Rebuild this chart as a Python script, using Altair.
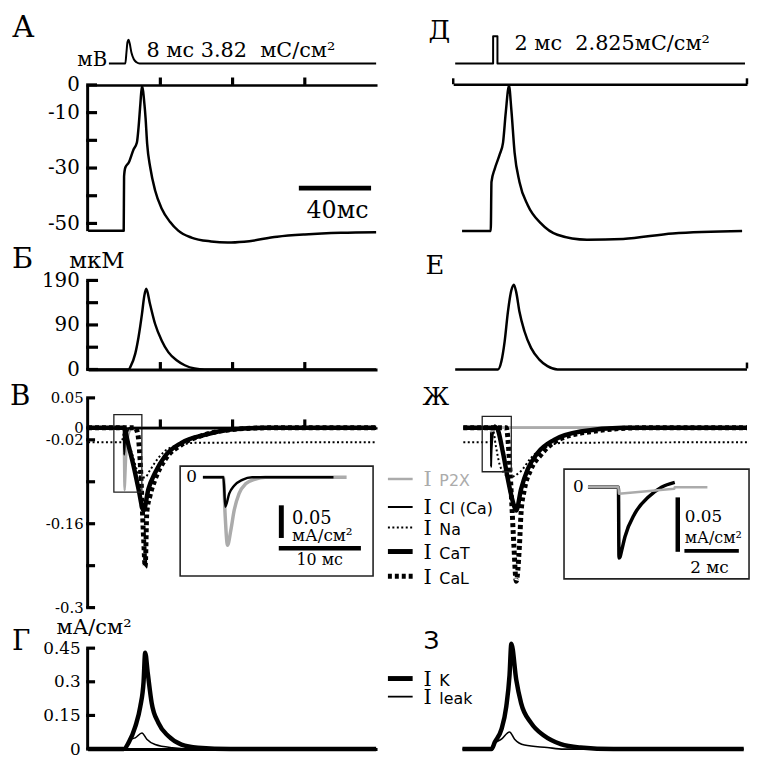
import altair as alt
import pandas as pd

# ======================= values =======================
# time in ms; stimulus in arbitrary units; Vm in mV; Ca in µM; currents in mA/cm2
stim_left_t = [11.5, 20.6, 21.2, 21.8, 22.4, 23.0, 24.0, 25.3, 26.8, 28.5, 159.5]
stim_left_v = [0, 0, 0.45, 0.9, 1.0, 0.85, 0.45, 0.18, 0.05, 0, 0]
stim_right_t = [0, 21.0, 21.01, 23.4, 23.41, 160.5]
stim_right_v = [0, 0, 1.15, 1.15, 0, 0]

# А / Д : membrane potential
vm_left_t = [0, 19.7, 19.9, 20.6, 22.5, 25.2, 27.0, 27.9, 28.9, 29.8, 31.2, 31.8, 32.7, 34.4,
             37.1, 40.7, 45.3, 49.9, 57.2, 68.1, 77.3, 86.4, 104.7, 120, 140, 159.5]
vm_left_v = [-52.6, -52.6, -33, -29.8, -28, -23.2, -20.8, -15.5, -7.1, -0.4, -7.1, -11.9, -21.4, -29.8,
             -38.1, -44.6, -49.4, -52.6, -55.1, -56.5, -56.9, -56.6, -54.8, -54.0, -53.4, -53.2]
vm_right_t = [3.8, 19.7, 20.1, 21.9, 24.7, 26.5, 28.0, 29.8, 31.1, 32.9, 35.6, 40.2, 47.5, 56.6,
              73.0, 93.0, 120.5, 158.9]
vm_right_v = [-52.7, -52.7, -35, -30.3, -25, -20.8, -10, -0.3, -8.9, -24.4, -35, -43.4, -50, -54.1,
              -55.9, -55.6, -53.6, -52.7]

# Б / Е : calcium concentration
ca_left_t = [0, 22.5, 23.4, 26.1, 27.9, 29.8, 31.1, 32.2, 34.3, 37.1, 40.7, 44.4, 49.0, 53.5, 59.0, 64.5, 159.5]
ca_left_v = [0, 0, 5.5, 33.8, 68.8, 118, 157, 172, 139, 97, 62, 37, 19.6, 9, 2, 0, 0]
ca_right_t = [0, 23.7, 25.6, 27.4, 29.2, 31.1, 32.5, 33.8, 35.6, 38.4, 42.0, 46.6, 51.1, 56.7, 161.6]
ca_right_v = [0, 0, 17.5, 60, 123, 169, 181, 165, 123, 81, 46, 21, 7, 0, 0]

# В : inward currents, left column
ip2x_left_t = [0, 17.2, 19.7, 19.9, 20.2, 20.6, 21.0, 21.6, 22.4, 23.6, 24.8, 34.7, 159.5]
ip2x_left_v = [0, 0, 0, -0.056, -0.104, -0.081, -0.051, -0.025, -0.010, -0.0026, 0, 0, 0]
icl_left_t = [0, 17.2, 19.7, 19.93, 20.4, 21.0, 22.0, 23.2, 33.1, 159.5]
icl_left_v = [0, 0, 0, -0.045, -0.025, -0.013, -0.004, 0, 0, 0]
ina_left_t = [0, 18.5, 19.7, 20.5, 22.0, 24.5, 27.0, 29.5, 31.5, 34.0, 37.0, 42.0, 50.0, 60.0, 159.5]
ina_left_v = [-0.024, -0.024, -0.01, -0.004, -0.02, -0.045, -0.07, -0.083, -0.083, -0.072, -0.058,
              -0.04, -0.029, -0.025, -0.024]
icat_left_t = [0, 19.7, 22.5, 25.2, 27.9, 30.7, 33.4, 37.1, 42.6, 51.7, 64.5, 79.0, 98.0, 159.5]
icat_left_v = [0, 0, -0.031, -0.064, -0.102, -0.138, -0.102, -0.075, -0.047, -0.025, -0.0116, -0.003, 0, 0]
ical_left_t = [0, 26.0, 27.5, 28.7, 29.8, 30.8, 31.6, 32.5, 34.3, 37.1, 42.6, 51.7, 64.5, 79.0, 100.0, 159.5]
ical_left_v = [0, 0, -0.01, -0.05, -0.12, -0.19, -0.232, -0.141, -0.113, -0.086, -0.053, -0.028,
               -0.0116, -0.003, 0, 0]

# Ж : inward currents, right column
ip2x_right_t = [4.5, 18.68, 19.8, 19.82, 21.85, 21.87, 23.07, 161.6]
ip2x_right_v = [0, 0, 0, -0.006, -0.0015, 0, 0, 0]
icl_right_t = [4.5, 18.68, 19.8, 19.82, 19.86, 19.92, 20.04, 20.4, 20.9, 21.38, 21.87, 23.07, 30.0, 161.6]
icl_right_v = [0, 0, 0, -0.065, -0.064, -0.058, -0.0455, -0.0243, -0.0091, 0, 0.0045, 0.002, 0, 0]
ina_right_t = [4.5, 19.5, 21.0, 22.5, 24.5, 27.0, 30.0, 33.0, 36.5, 42.0, 51.0, 60.0, 161.6]
ina_right_v = [-0.024, -0.024, -0.005, -0.03, -0.06, -0.075, -0.083, -0.08, -0.072, -0.05, -0.031,
               -0.025, -0.024]
icat_right_t = [4.5, 22.8, 26.5, 29.2, 32.0, 33.8, 36.5, 40.2, 45.6, 54.8, 69.4, 93.0, 161.6]
icat_right_v = [0, 0, -0.042, -0.086, -0.124, -0.138, -0.102, -0.069, -0.042, -0.02, -0.006, 0, 0]
ical_right_t = [4.5, 28.3, 30.1, 31.4, 32.5, 33.8, 35.6, 36.5, 38.4, 42.0, 47.5, 57.0, 76.0, 103.0, 161.6]
ical_right_v = [0, 0, -0.058, -0.13, -0.196, -0.256, -0.196, -0.141, -0.102, -0.069, -0.045, -0.02,
                -0.006, 0, 0]

# Г / З : outward currents
ik_left_t = [0, 19.7, 22.5, 26.1, 28.9, 30.7, 31.6, 33.0, 35.2, 38.9, 44.4, 51.7, 60.8, 79.0, 159.5]
ik_left_v = [0, 0, 0.03, 0.1, 0.19, 0.3, 0.43, 0.34, 0.205, 0.117, 0.058, 0.02, 0.006, 0, 0]
ileak_left_t = [0, 19.7, 23.4, 26.1, 29.8, 32.5, 37.1, 46.6, 60.0, 159.5]
ileak_left_v = [0, 0, 0.044, 0.05, 0.072, 0.044, 0.02, 0.006, 0, -0.003]
ik_right_t = [4.0, 20.1, 21.9, 25.6, 28.3, 30.1, 31.1, 33.8, 36.5, 42.0, 49.3, 58.5, 69.4, 87.7, 159.8]
ik_right_v = [0, 0, 0.03, 0.088, 0.19, 0.33, 0.47, 0.31, 0.205, 0.117, 0.059, 0.022, 0.007, 0, 0]
ileak_right_t = [4.0, 20.1, 21.0, 25.6, 30.1, 32.9, 38.4, 50.9, 60.0, 159.8]
ileak_right_v = [0, 0, 0.022, 0.044, 0.076, 0.044, 0.018, 0.007, 0, 0]

# axis ticks and labels
vm_ticks = [0, -10, -20, -30, -40, -50]
vm_labels = ["0", "-10", "", "-30", "", "-50"]
ca_ticks = [0, 47.5, 95, 142.5, 190]
ca_labels = ["0", "", "90", "", "190"]
cur_ticks = [0.05, 0, -0.02, -0.09, -0.16, -0.23, -0.3]
cur_labels = ["0.05", "0", "-0.02", "", "-0.16", "", "-0.3"]
out_ticks = [0, 0.15, 0.3, 0.45]
out_labels = ["0", "0.15", "0.3", "0.45"]
time_ticks = [40, 80, 120]
right_end_ticks = [-1.1, 161.6]

# legends
legC_names = ["P2X", "Cl (Ca)", "Na", "CaT", "CaL"]
legD_names = ["K", "leak"]

# ======================= layout (pixels) =======================
W, H, M = 752, 754, 8
SERIF, SANS = "DejaVu Serif", "DejaVu Sans"
GREY = "#ababab"
XL = (89.0, 1.825)                      # page x at t = 0, px per ms
XR = (460.0, 1.825)
XIL = (205.0 - 8.3 * 17.2, 8.3)         # inset В
XIR = (625.0 - 27.5 * 19.8, 27.5)       # inset Ж
YM = {"stim": (60.0, 24.0), "A": (81.7, 2.8), "B": (369.3, 0.4737), "C": (428.3, 605.7),
      "D": (753.0, 226.7), "IL": (478.3, 660.0), "IR": (488.3, 1100.0)}


def sx(xm, lo=0.0, hi=160.0):
    x0, k = xm
    return alt.Scale(domain=[lo, hi], range=[x0 + k * lo - M, x0 + k * hi - M], nice=False, zero=False)


def sy(key, lo=0.0, hi=1.0):
    y0, k = YM[key]
    return alt.Scale(domain=[lo, hi], range=[y0 - k * lo - M, y0 - k * hi - M], nice=False, zero=False)


def tp(px, xm):
    return (px - xm[0]) / xm[1]


def vp(py, yk):
    return (YM[yk][0] - py) / YM[yk][1]


def trace(t, v, xm, yk, color="black", w=2.5, dash=None, interp="monotone", t_lo=None, t_hi=None):
    df = pd.DataFrame({"t": [float(a) for a in t], "v": [float(b) for b in v]})
    kw = dict(color=color, strokeWidth=w, interpolate=interp, strokeCap="butt", strokeJoin="round")
    if dash is not None:
        kw["strokeDash"] = dash
    ch = alt.Chart(df)
    if t_lo is not None:
        ch = ch.transform_filter(f"datum.t >= {t_lo} && datum.t <= {t_hi}")
    return ch.mark_line(**kw).encode(
        x=alt.X("t:Q", scale=sx(xm), axis=None),
        y=alt.Y("v:Q", scale=sy(yk), axis=None),
    )


def bar(t0, t1, v0, v1, xm, yk, w, color="black", dash=None):
    df = pd.DataFrame({"t0": [float(t0)], "t1": [float(t1)], "v0": [float(v0)], "v1": [float(v1)]})
    kw = dict(color=color, strokeWidth=w, strokeCap="butt")
    if dash is not None:
        kw["strokeDash"] = dash
    return alt.Chart(df).mark_rule(**kw).encode(
        x=alt.X("t0:Q", scale=sx(xm), axis=None), x2="t1:Q",
        y=alt.Y("v0:Q", scale=sy(yk), axis=None), y2="v1:Q",
    )


def ticks_x(values, xm, yk, y_page, length, w=3.2):
    """short upward tick marks on a horizontal axis line"""
    return [bar(t, t, vp(y_page, yk), vp(y_page - length, yk), xm, yk, w) for t in values]


def ticks_y(values, xm, yk, x_page, length, w=3.2):
    """short inward (rightward) tick marks on a vertical axis line"""
    return [bar(tp(x_page, xm), tp(x_page + length, xm), v, v, xm, yk, w) for v in values]


def frame(px0, px1, py0, py1, xm, yk, w=1.5):
    df = pd.DataFrame({"t0": [tp(px0, xm)], "t1": [tp(px1, xm)], "v0": [vp(py0, yk)], "v1": [vp(py1, yk)]})
    return alt.Chart(df).mark_rect(fillOpacity=0, stroke="#222222", strokeWidth=w).encode(
        x=alt.X("t0:Q", scale=sx(xm), axis=None), x2="t1:Q",
        y=alt.Y("v0:Q", scale=sy(yk), axis=None), y2="v1:Q",
    )


def label(s, px, py, xm, yk, size, font=SERIF, align="left", baseline="alphabetic", color="black"):
    df = pd.DataFrame({"t": [tp(px, xm)], "v": [vp(py, yk)], "s": [s]})
    return alt.Chart(df).mark_text(align=align, baseline=baseline, font=font, fontSize=size,
                                   color=color).encode(
        x=alt.X("t:Q", scale=sx(xm), axis=None),
        y=alt.Y("v:Q", scale=sy(yk), axis=None),
        text="s:N",
    )


def label_expr(vals, labs):
    e = "''"
    for val, lab in zip(reversed(vals), reversed(labs)):
        e = f"abs(datum.value - ({val})) < 1e-9 ? '{lab}' : ({e})"
    return e


def y_axis(yk, lo, hi, ticks, labs, size, pad, tick_len, axis_px=88.0):
    df = pd.DataFrame({"v": [float(a) for a in ticks]})
    pos = axis_px - M
    ax = alt.Chart(df).mark_point(opacity=0).encode(
        y=alt.Y("v:Q", scale=sy(yk, lo, hi), axis=alt.Axis(
            orient="left", offset=-pos, values=ticks, ticks=False, tickSize=0,
            domain=True, domainWidth=3, domainColor="black",
            labels=True, labelExpr=label_expr(ticks, labs), labelFont=SERIF, labelFontSize=size,
            labelPadding=pad, labelColor="black", labelOverlap=False, grid=False, title=None)))
    return [ax] + ticks_y(ticks, XL, yk, axis_px - 1, tick_len + 1)


def x_line(xm, lo, hi, y_page, dom_w=3, z=0):
    df = pd.DataFrame({"t": [float(lo), float(hi)]})
    ax = dict(orient="top", offset=-(y_page - M), domain=True, domainColor="black", domainWidth=dom_w,
              ticks=False, labels=False, grid=False, title=None, zindex=z)
    return alt.Chart(df).mark_point(opacity=0).encode(
        x=alt.X("t:Q", scale=sx(xm, lo, hi), axis=alt.Axis(**ax)))


layers = []

# ---------- stimulus strips ----------
layers += [
    trace(stim_left_t, stim_left_v, XL, "stim", w=2),
    trace(stim_right_t, stim_right_v, XR, "stim", w=2, interp="linear"),
    label("А", 12, 33, XL, "stim", 30),
    label("мВ", 78, 63, XL, "stim", 20),
    label("8 мс 3.82\u00a0\u00a0мС/см²", 148, 53.5, XL, "stim", 21),
    label("Д", 433, 35, XR, "stim", 27),
    label("2 мс\u00a0\u00a02.825мС/см²", 520, 46.7, XR, "stim", 21),
]

# ---------- А / Д ----------
layers += y_axis("A", -52.6, 0, vm_ticks, vm_labels, 20, 8, 10)
layers += [x_line(XL, 0, 160, 81.7, dom_w=2.5)]
layers += ticks_x(time_ticks, XL, "A", 81.7, 7.5)
layers += [x_line(XR, -1.1, 161.6, 81.0, dom_w=2.5)]
layers += ticks_x(right_end_ticks, XR, "A", 81.0, 6, w=2.5)
layers += [
    trace(vm_left_t, vm_left_v, XL, "A"),
    trace(vm_right_t, vm_right_v, XR, "A"),
    bar(116.7, 156.7, -37.25, -37.25, XL, "A", 5),
    label("40мс", 341, 216, XL, "A", 24, align="center"),
]

# ---------- Б / Е ----------
layers += y_axis("B", 0, 190, ca_ticks, ca_labels, 20, 8, 11)
layers += [x_line(XL, 0, 160, 369.3, dom_w=3)]
layers += ticks_x(time_ticks, XL, "B", 369.3, 7.5)
layers += ticks_x(right_end_ticks[1:], XR, "B", 368.3, 6, w=2.5)
layers += [
    trace(ca_left_t, ca_left_v, XL, "B"),
    trace(ca_right_t, ca_right_v, XR, "B"),
    label("Б", 12, 267, XL, "B", 29),
    label("мкМ", 70, 267, XL, "B", 23),
    label("Е", 430, 273, XR, "B", 26),
]

# ---------- В / Ж ----------
layers += y_axis("C", -0.3, 0.05, cur_ticks, cur_labels, 15, 4, 8)
layers += [
    trace(ip2x_left_t, ip2x_left_v, XL, "C", color=GREY, w=2.5),
    x_line(XL, 0, 160, 428.3, dom_w=2.2, z=1),
]
layers += ticks_x(time_ticks, XL, "C", 428.3, 8.5)
layers += [
    trace(ina_left_t, ina_left_v, XL, "C", w=2, dash=[2, 2.5]),
    trace(icl_left_t, icl_left_v, XL, "C", w=2),
    trace(icat_left_t, icat_left_v, XL, "C", w=4.5),
    trace(ical_left_t, ical_left_v, XL, "C", w=5, dash=[4, 3]),
    frame(115, 143.3, 415, 493.3, XL, "C", 1.3),
    label("В", 10, 405, XL, "C", 28),
    # right column
    trace(icl_right_t, icl_right_v, XR, "C", w=2),
    trace(ip2x_right_t, ip2x_right_v, XR, "C", color=GREY, w=2.5),
    trace(ina_right_t, ina_right_v, XR, "C", w=2, dash=[2, 2.5]),
    trace(icat_right_t, icat_right_v, XR, "C", w=4.5),
    trace(ical_right_t, ical_right_v, XR, "C", w=5, dash=[4, 3]),
    frame(487.3, 516.7, 416.7, 472.7, XR, "C", 1.3),
    label("Ж", 427, 405, XR, "C", 24),
]

# inset В
layers += [
    frame(182, 377, 467, 578, XIL, "IL", 1.6),
    trace(ip2x_left_t, ip2x_left_v, XIL, "IL", color=GREY, w=3.5, t_lo=17.2, t_hi=34.7),
    trace(icl_left_t, icl_left_v, XIL, "IL", w=2.5, t_lo=17.2, t_hi=33.1),
    bar(26.75, 26.75, -0.0429, -0.0929, XIL, "IL", 5),
    bar(26.44, 36.44, -0.1086, -0.1086, XIL, "IL", 4.5),
    label("0", 199, 478.3, XIL, "IL", 17, align="right", baseline="middle"),
    label("0.05", 295, 525, XIL, "IL", 18),
    label("мА/см²", 295, 543, XIL, "IL", 17),
    label("10 мс", 323, 566.7, XIL, "IL", 16, align="center"),
]
# inset Ж
layers += [
    frame(570, 757, 470, 581, XIR, "IR", 1.6),
    trace(icl_right_t, icl_right_v, XIR, "IR", w=3.5, t_lo=18.68, t_hi=21.87),
    trace(ip2x_right_t, ip2x_right_v, XIR, "IR", color=GREY, w=2.5, t_lo=18.68, t_hi=23.07,
          interp="linear"),
    bar(21.98, 21.98, -0.00936, -0.05936, XIR, "IR", 4.5),
    bar(22.225, 24.225, -0.0585, -0.0585, XIR, "IR", 4),
    label("0", 590, 488.3, XIR, "IR", 17, align="right", baseline="middle"),
    label("0.05", 692, 523, XIR, "IR", 17),
    label("мА/см²", 692, 545, XIR, "IR", 16),
    label("2 мс", 717, 575, XIR, "IR", 17, align="center"),
]

# legend for В / Ж
legC_style = [(GREY, 2.5, None), ("black", 2, None), ("black", 2, [2, 2.5]), ("black", 5, None),
              ("black", 5, [4, 3])]
legC_y = [480, 508.3, 529, 553.3, 578.3]
for name, (col, w, dash), py in zip(legC_names, legC_style, legC_y):
    layers.append(bar(tp(392, XR), tp(417, XR), vp(py, "C"), vp(py, "C"), XR, "C", w, color=col, dash=dash))
    tc = GREY if name == "P2X" else "black"
    layers.append(label("I", 428, py + 7.5, XR, "C", 21, color=tc))
    layers.append(label(name, 444, py + 7.5, XR, "C", 16, font=SANS, color=tc))

# ---------- Г / З ----------
layers += y_axis("D", 0, 0.45, out_ticks, out_labels, 17, 7, 8)
layers += [
    x_line(XL, 0, 160, 753, dom_w=3),
    trace(ileak_left_t, ileak_left_v, XL, "D", w=1.6),
    trace(ik_left_t, ik_left_v, XL, "D", w=4.5),
    trace(ileak_right_t, ileak_right_v, XR, "D", w=1.6),
    trace(ik_right_t, ik_right_v, XR, "D", w=4.5),
    label("Г", 12, 653, XL, "D", 28),
    label("мА/см²", 57, 637, XL, "D", 21),
    label("З", 428, 652, XR, "D", 25, font=SANS),
]
legD_style = [("black", 5), ("black", 1.8)]
legD_y = [681.7, 700]
for name, (col, w), py in zip(legD_names, legD_style, legD_y):
    layers.append(bar(tp(392, XR), tp(417, XR), vp(py, "D"), vp(py, "D"), XR, "D", w, color=col))
    layers.append(label("I", 428, py + 7.5, XR, "D", 21))
    layers.append(label(name, 444, py + 7.5, XR, "D", 16, font=SANS))

chart = (
    alt.layer(*layers)
    .resolve_scale(x="independent", y="independent")
    .resolve_axis(x="independent", y="independent")
    .properties(width=W, height=H, padding=0, autosize=alt.AutoSizeParams(type="none"))
    .configure_view(stroke=None)
)

chart.save("out.html", embed_options={"renderer": "svg", "actions": False})
